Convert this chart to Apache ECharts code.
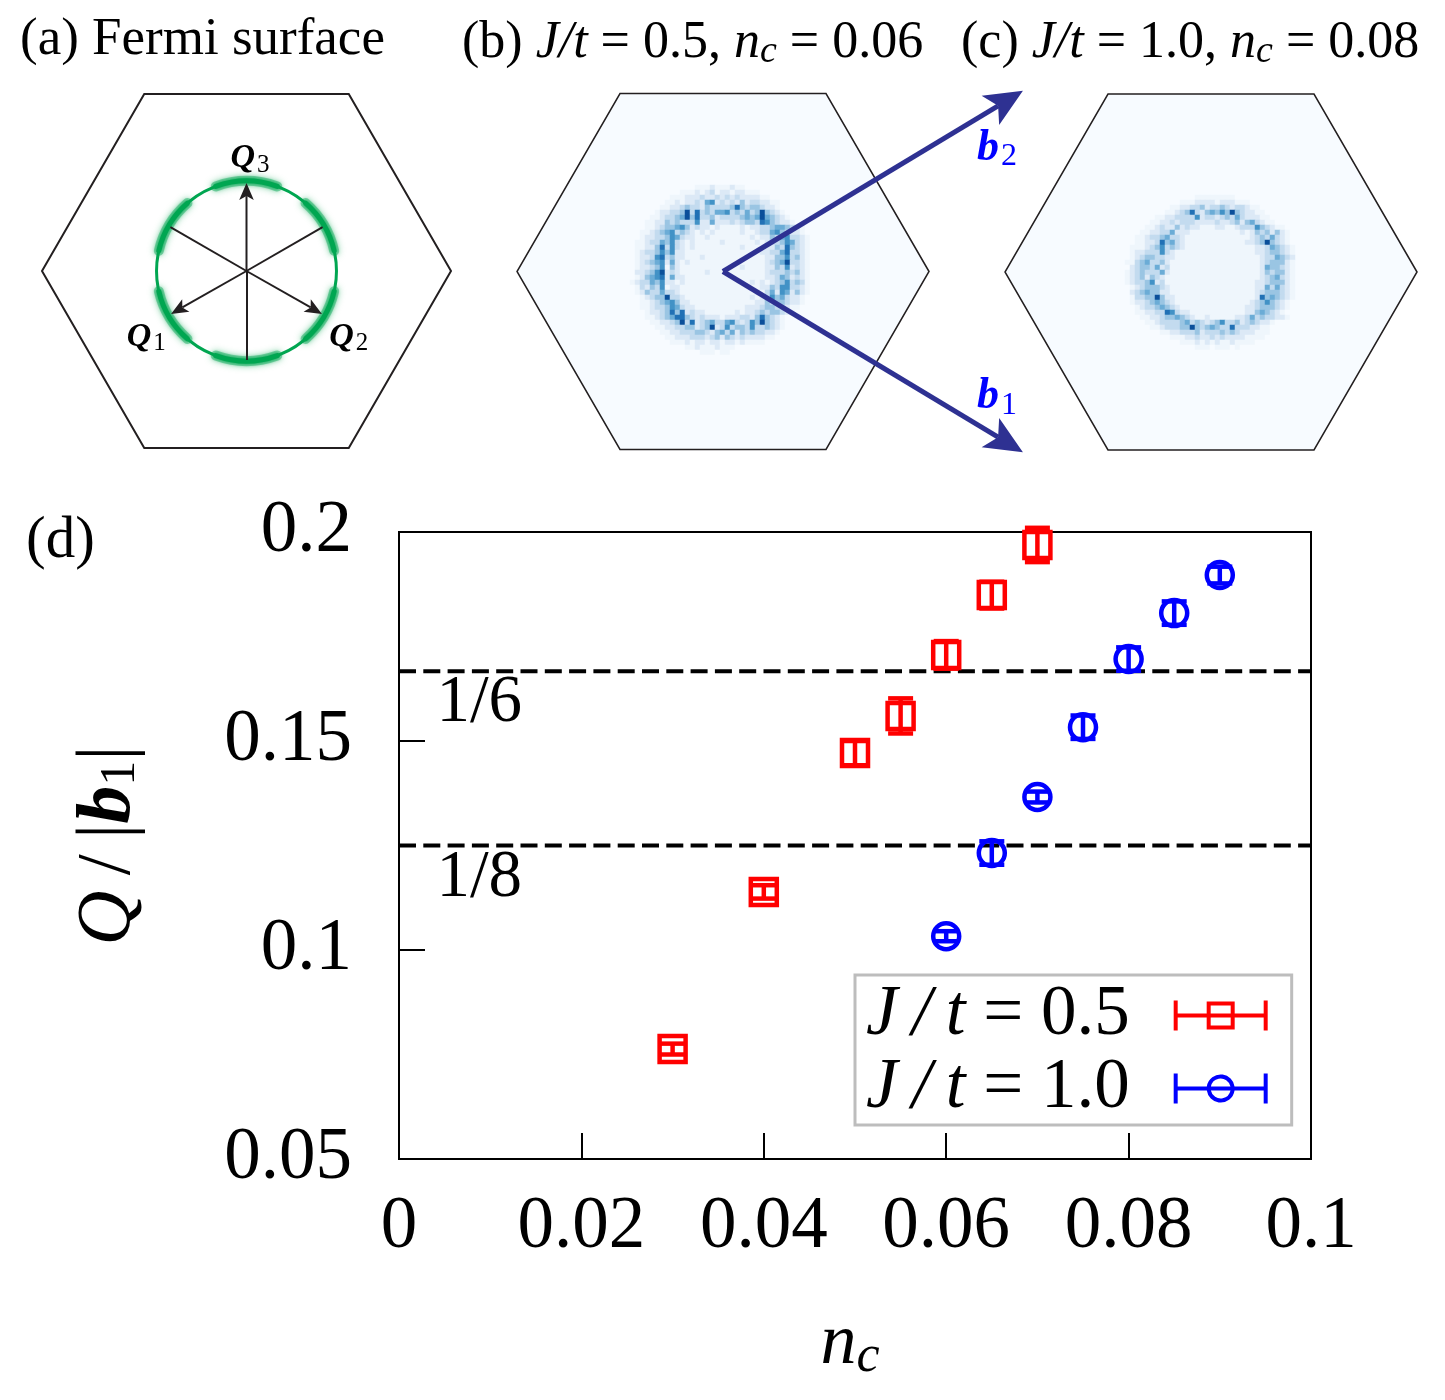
<!DOCTYPE html>
<html>
<head>
<meta charset="utf-8">
<title>Fermi surface and Q/|b1|</title>
<style>
html,body{margin:0;padding:0;background:#fff}
#main{width:1445px;height:1400px}
</style>
<script src="https://cdn.jsdelivr.net/npm/echarts@6/dist/echarts.min.js"></script>
</head>
<body>
<div id="main"></div>
<script>
// panel (d): n_c, Q/|b1|, error
var red05 = [[0.03,0.0763,0.0013],[0.04,0.1139,0.0016],[0.05,0.1471,0.0029],[0.055,0.156,0.0042],[0.06,0.1706,0.0033],[0.065,0.1849,0.0032],[0.07,0.1969,0.0041]];
var blue10 = [[0.06,0.1033,0.0012],[0.065,0.1232,0.0028],[0.07,0.1366,0.0013],[0.075,0.1533,0.0028],[0.08,0.1696,0.0028],[0.085,0.1806,0.0028],[0.09,0.1897,0.002]];
var refLines = [[1/6,'1/6'],[1/8,'1/8']];
var refLabels = [[0.0088,0.1591,'1/6'],[0.0088,0.1172,'1/8']];

// brillouin zone, in units of the corner distance
var hexVertices = [[1,0],[0.5,0.866],[-0.5,0.866],[-1,0],[-0.5,-0.866],[0.5,-0.866]];

// panel (a)
var fermiRadius = 0.44;
var fermiRing = [[0,360]];
var fermiArcs = [[70,110],[13,49],[-49,-13],[-110,-70],[131,167],[193,229]];
var spokes = [[-0.372,0.215],[0.372,0.215],[0,-0.435]];
var qVectors = [[-0.369,-0.21],[0.369,-0.21],[0,0.43]];
var qLabels = [[-0.49,-0.323,'1'],[0.5,-0.323,'2'],[0.017,0.55,'3']];

// panel (b) reciprocal vectors
var bVectors = [[1.456,-0.879],[1.456,0.879]];
var bLabels = [[1.33,-0.61,'1'],[1.33,0.6,'2']];

// intensity rows, 0 (lightest) to 9 (darkest)
var rowsB = [
'0000000000000000000000000000000000000',
'0000000000000111211121100000000000000',
'0000000000111212312212211100000000000',
'0000000011122232232323222211000000000',
'0000000112122325623232423322110000000',
'000000 1122 3433 2433 3347 4344 3221 0000000',
'00000 1223 3483 7343 5563 4353 4843 21 000000',
'0000 1123 3458 4733 4233 3345 4585 4321 00000',
'000 1122 4343 3362 2522 2323 4437 6432 21 0000',
'00 0112 3445 6423 2212 1111 2122 3345 5432 1 00',
'0 0112 3456 3432 1212 1111 1211 2335 6432 21 00',
'0 0122 3346 5322 1121 1111 1112 1224 3563 32 10',
'0 1123 3546 3212 1111 1211 1111 2123 3465 321 0',
'0 1122 4736 3212 1111 1111 1211 1122 4374 321 0',
'0 1233 4646 2211 1111 1111 1111 1223 3573 321 0',
'0 1223 6734 2211 1211 1111 1111 1122 4463 421 0',
'0 1234 5625 2121 1111 1111 1111 1123 4583 321 0',
'0 1223 4614 2111 1111 1111 1211 1122 4362 321 0',
'0 2234 6823 2111 1121 1111 1111 1123 3343 421 0',
'0 1245 6725 2211 1111 1111 1111 1122 3542 321 0',
'1 2335 4622 1211 1111 1111 1112 1212 3463 431 0',
'0 1324 3612 2111 1111 1111 1111 1224 3663 321 0',
'0 1243 3533 2111 1111 1111 1111 2135 2652 421 0',
'0 0123 4483 3211 1111 1111 1112 1236 4532 21 00',
'0 0112 3456 4221 1111 1111 1111 2243 4432 21 00',
'00 112 3346 5322 1111 1111 1122 2344 3321 1 000',
'00 012 2347 4723 2211 1111 2122 3434 4321 0 000',
'000 112 3457 7432 3222 1222 3324 7432 1 000000',
'0000 112 234 8372 3453 3563 2364 8432 1 000000',
'00000 11 223 3442 3482 3634 4363 3432 1 000000',
'000000 1 122 3334 4324 5352 4343 3221 0000000',
'0000000 112 2233 3234 2432 3222 2110 0000000',
'00000000 11 1212 2122 1221 2111 1000 0000000',
'0000000000011211121110000000000000000',
'0000000000000011101100000000000000000',
'0000000000000000000000000000000000000',
'0000000000000000000000000000000000000'
];
var rowsC = [
'0000000000000000000000000000000000',
'0000000000000011111111000000000000',
'0000000000011122221222111000000000',
'0000000001122334233432332110000000',
'00000000 1123 4732 4546 4843 2211 000000',
'000000 1122 3333 6233 2343 5322 211 00000',
'00000 112 2323 3322 2232 2342 4532 11 0000',
'0000 112 3 2242 3221 1122 1123 3364 3211 00',
'000 1122 3352 2211 1111 1111 2124 3424 210',
'00 1123 3453 3211 1111 1111 1112 3435 3210',
'00 1122 37 4532 11 1111 1111 11 2234 84 321 0',
'0 11123 4634 3211 1111 1111 1111 2235 4321',
'0 1223 3363 2111 1111 1111 1111 1223 4432 1',
'0 1234 4332 2111 1111 1111 1111 1123 3543 2',
'1 1345 3342 1111 1111 1111 1111 1123 4442 1',
'0 2344 3523 1111 1111 1111 1111 1125 4432 1',
'1 2343 3352 1111 1111 1111 1111 1124 3442 1',
'1 2342 4321 1111 1111 1111 1111 1123 4532 1',
'1 2334 6231 1111 1111 1111 1111 1223 4442 1',
'0 1234 4432 1111 1111 1111 1111 1225 3532 1',
'0 2345 4422 1111 1111 1111 1111 1234 4432 1',
'0 1334 4842 2111 1111 1111 1111 1274 5432 1',
'0 1223 4543 2111 1111 1111 1111 2346 4321 0',
'00 123 3454 3211 1111 1111 1112 2344 4321 0',
'00 1122 33 7632 2111 1111 1111 2245 4321 00',
'000 1122 3445 4321 1211 1112 2353 4332 21 0',
'0000 1123 3334 5343 2346 3342 3432 21 0000',
'00000 112 3334 4843 4543 3733 3221 1 00000',
'0000000 112 2333 4233 3434 3222 111 00000',
'000000000 11 1223 2232 3222 2111 1 000000',
'00000000000 11 1212 1211 2111 1 00000000',
'0000000000000011101110100000000000',
'0000000000000000000000000000000000',
'0000000000000000000000000000000000'
];
var blues = ['#f7fbff','#eff6fc','#dce9f6','#c3dbef','#9ac5e3','#6bacd6','#4292c6','#2171b5','#0a4f9a','#08306b'];

var serif = '"Liberation Serif"';
var INK = '#231f20';

function heatData(rows){
	var out = [];
	rows.forEach(function(row, r){
		row = row.replace(/ /g,'');
		for(var c = 0; c < row.length; c++){
			out.push([c, r, +row[c]]);
		}
	});
	return out;
}

function indexList(n){
	var a = [];
	for(var i = 0; i < n; i++) a.push(i);
	return a;
}

function hexSeries(gridIdx, fill, width){
	return {
		type:'custom', xAxisIndex:gridIdx, yAxisIndex:gridIdx, clip:false, silent:true, z:1,
		data:[[0,0]],
		renderItem:function(params, api){
			return {
				type:'polygon',
				shape:{points:hexVertices.map(function(v){return api.coord(v);})},
				style:{fill:fill, stroke:INK, lineWidth:width}
			};
		}
	};
}

function arcSeries(data, width, blur, opacity, cap){
	return {
		type:'custom', xAxisIndex:0, yAxisIndex:0, clip:false, silent:true, z:3,
		data:data,
		renderItem:function(params, api){
			var c = api.coord([0,0]);
			var r = api.size([fermiRadius,0])[0];
			return {
				type:'arc',
				shape:{cx:c[0], cy:c[1], r:r, startAngle:-api.value(1)*Math.PI/180, endAngle:-api.value(0)*Math.PI/180, clockwise:true},
				style:{fill:null, stroke:'#00a651', lineWidth:width, lineCap:cap, opacity:opacity, shadowBlur:blur, shadowColor:'#00a651'}
			};
		}
	};
}

function spokeSeries(gridIdx, vectors, color, width){
	return {
		type:'lines', coordinateSystem:'cartesian2d', xAxisIndex:gridIdx, yAxisIndex:gridIdx,
		clip:false, silent:true, z:5, symbol:['none','none'],
		lineStyle:{color:color, width:width, opacity:1, curveness:0},
		data:vectors.map(function(v){return {coords:[[0,0],v]};})
	};
}

// shaft plus a notched head, head sizes in pixels
function arrowSeries(gridIdx, vectors, color, width, len, half, notch){
	return {
		type:'custom', xAxisIndex:gridIdx, yAxisIndex:gridIdx, clip:false, silent:true, z:5,
		encode:{x:0, y:1},
		data:vectors,
		renderItem:function(params, api){
			var o = api.coord([0,0]);
			var t = api.coord([api.value(0), api.value(1)]);
			var d = Math.hypot(t[0]-o[0], t[1]-o[1]);
			var ux = (t[0]-o[0])/d, uy = (t[1]-o[1])/d;
			var bx = t[0]-ux*len, by = t[1]-uy*len;
			var nx = t[0]-ux*notch, ny = t[1]-uy*notch;
			return {type:'group', children:[
				{type:'line', shape:{x1:o[0],y1:o[1],x2:nx,y2:ny}, style:{stroke:color, lineWidth:width}},
				{type:'polygon', shape:{points:[t,[bx-uy*half,by+ux*half],[nx,ny],[bx+uy*half,by-ux*half]]}, style:{fill:color}}
			]};
		}
	};
}

function vectorLabels(gridIdx, data, letter, color, size, subSize){
	return {
		type:'scatter', xAxisIndex:gridIdx, yAxisIndex:gridIdx, clip:false, silent:true, z:6,
		symbolSize:1, itemStyle:{color:'transparent', opacity:1},
		data:data,
		label:{
			show:true, position:'inside',
			formatter:function(p){return '{v|'+letter+'}{s|'+p.data[2]+'}';},
			rich:{
				v:{fontFamily:serif, fontStyle:'italic', fontWeight:'bold', fontSize:size, color:color},
				s:{fontFamily:serif, fontSize:subSize, color:color, padding:[subSize*0.55,0,0,2]}
			}
		}
	};
}

function errorSeries(name, data, color, marker){
	return {
		name:name, type:'custom', xAxisIndex:3, yAxisIndex:3, clip:false, z:8,
		itemStyle:{color:color},
		encode:{x:0, y:1},
		data:data,
		renderItem:function(params, api){
			var p = api.coord([api.value(0), api.value(1)]);
			var lo = api.coord([api.value(0), api.value(1)-api.value(2)]);
			var hi = api.coord([api.value(0), api.value(1)+api.value(2)]);
			var st = {stroke:color, lineWidth:4.5, fill:'none'};
			var capW = 12.5;
			var kids = [
				{type:'line', shape:{x1:p[0],y1:lo[1],x2:p[0],y2:hi[1]}, style:st},
				{type:'line', shape:{x1:p[0]-capW,y1:lo[1],x2:p[0]+capW,y2:lo[1]}, style:st},
				{type:'line', shape:{x1:p[0]-capW,y1:hi[1],x2:p[0]+capW,y2:hi[1]}, style:st}
			];
			if(marker == 'square'){
				kids.push({type:'rect', shape:{x:p[0]-13,y:p[1]-13,width:26,height:26}, style:st});
			}else{
				kids.push({type:'circle', shape:{cx:p[0],cy:p[1],r:13}, style:st});
			}
			return {type:'group', children:kids};
		}
	};
}

function panelAxes(n){
	var xa = [], ya = [];
	for(var i = 0; i < n; i++){
		xa.push({gridIndex:i, type:'value', min:-1, max:1, show:false});
		ya.push({gridIndex:i, type:'value', min:-0.866, max:0.866, show:false});
	}
	return {x:xa, y:ya};
}

var axes = panelAxes(3);
var xAxes = axes.x.concat([
	{gridIndex:3, type:'value', min:0, max:0.1, interval:0.02,
		axisLine:{show:false}, splitLine:{show:false},
		axisTick:{show:true, inside:true, length:26, lineStyle:{color:'#000', width:2}},
		axisLabel:{fontFamily:serif, fontSize:73, color:'#000', margin:32},
		name:'{i|n}{s|c}', nameLocation:'middle', nameGap:146,
		nameTextStyle:{padding:[0,10,0,0], rich:{
			i:{fontFamily:serif, fontStyle:'italic', fontSize:72, color:'#000'},
			s:{fontFamily:serif, fontStyle:'italic', fontSize:52, color:'#000', padding:[26,0,0,0]}
		}}
	},
	{gridIndex:4, type:'category', show:false, data:indexList(37)},
	{gridIndex:5, type:'category', show:false, data:indexList(34)}
]);
var yAxes = axes.y.concat([
	{gridIndex:3, type:'value', min:0.05, max:0.2, interval:0.05,
		axisLine:{show:false}, splitLine:{show:false},
		axisTick:{show:true, inside:true, length:26, lineStyle:{color:'#000', width:2}},
		axisLabel:{fontFamily:serif, fontSize:73, color:'#000', margin:47, padding:[0,0,10,0]},
		name:'{i|Q}{r|\u2009/\u2009|}{b|b}{s|1}{r||}', nameLocation:'middle', nameRotate:90, nameGap:252,
		nameTextStyle:{rich:{
			i:{fontFamily:serif, fontStyle:'italic', fontSize:76, color:'#000'},
			r:{fontFamily:serif, fontSize:76, color:'#000'},
			b:{fontFamily:serif, fontStyle:'italic', fontWeight:'bold', fontSize:76, color:'#000'},
			s:{fontFamily:serif, fontSize:50, color:'#000', padding:[24,0,0,0]}
		}}
	},
	{gridIndex:4, type:'category', show:false, inverse:true, data:indexList(37)},
	{gridIndex:5, type:'category', show:false, inverse:true, data:indexList(34)}
]);

var titleRich = {
	a:{fontFamily:serif, fontSize:53, fontWeight:'normal', color:'#000'},
	d:{fontFamily:serif, fontSize:59, fontWeight:'normal', color:'#000'},
	r:{fontFamily:serif, fontSize:52, fontWeight:'normal', color:'#000'},
	i:{fontFamily:serif, fontStyle:'italic', fontWeight:'normal', fontSize:52, color:'#000'},
	s:{fontFamily:serif, fontStyle:'italic', fontWeight:'normal', fontSize:38, color:'#000', padding:[18,0,0,0]}
};
function panelTitle(text, left, top){
	return {text:text, left:left, top:top, padding:0, textStyle:{fontWeight:'normal', rich:titleRich}};
}

var option = {
	animation:false,
	backgroundColor:'#fff',
	title:[
		panelTitle('{a|(a) Fermi surface}', 20, 14),
		panelTitle('{r|(b) }{i|J/t}{r| = 0.5, }{i|n}{s|c}{r| = 0.06}', 462, 15),
		panelTitle('{r|(c) }{i|J/t}{r| = 1.0, }{i|n}{s|c}{r| = 0.08}', 961, 15),
		panelTitle('{d|(d)}', 26, 512)
	],
	grid:[
		{left:42, top:94, width:409, height:354, outerBoundsMode:'none'},
		{left:517, top:93.5, width:412, height:356, outerBoundsMode:'none'},
		{left:1005, top:94, width:412, height:356, outerBoundsMode:'none'},
		{left:399, top:532, width:912, height:627, outerBoundsMode:'none', show:true, borderColor:'#000', borderWidth:2, backgroundColor:'transparent'},
		{left:630, top:180, width:185, height:185, outerBoundsMode:'none'},
		{left:1125, top:190, width:170, height:170, outerBoundsMode:'none'}
	],
	xAxis:xAxes,
	yAxis:yAxes,
	visualMap:{show:false, type:'piecewise', seriesIndex:[8,9], dimension:2,
		pieces:blues.map(function(col, i){return {value:i, color:col};})},
	legend:{
		left:855, top:975, orient:'vertical', align:'right', selectedMode:false,
		backgroundColor:'#fff', borderColor:'#bdbdbd', borderWidth:3, borderRadius:0,
		padding:[4,24,0,11], itemGap:0, itemWidth:94, itemHeight:30,
		textStyle:{lineHeight:73, rich:{
			i:{fontFamily:serif, fontStyle:'italic', fontSize:71, color:'#000', lineHeight:73},
			r:{fontFamily:serif, fontSize:71, color:'#000', lineHeight:73},
			g:{width:39}
		}},
		formatter:function(name){
			return '{i|J\u2009/\u2009t}{r| = '+name.split('= ')[1]+'}{g|}';
		},
		data:[
			{name:'J/t = 0.5', itemStyle:{color:'#ff0000', borderWidth:0},
				icon:'path://M0 0H4V13H33V1H61V13H90V0H94V30H90V17H61V29H33V17H4V30H0ZM37 5V13H57V5ZM37 17V25H57V17Z'},
			{name:'J/t = 1.0', itemStyle:{color:'#0000ff', borderWidth:0},
				icon:'path://M0 0H4V13H33.14A14 14 0 0 1 60.86 13H90V0H94V30H90V17H60.86A14 14 0 0 1 33.14 17H4V30H0ZM37.2 13H56.8A10 10 0 0 0 37.2 13ZM37.2 17A10 10 0 0 0 56.8 17Z'}
		]
	},
	series:[
		hexSeries(0, '#ffffff', 2),
		hexSeries(1, blues[0], 1.5),
		hexSeries(2, blues[0], 1.5),
		arcSeries(fermiRing, 3, 0, 1, 'butt'),
		arcSeries(fermiArcs, 10, 7, 0.4, 'round'),
		arcSeries(fermiArcs, 5, 4, 1, 'round'),
		spokeSeries(0, spokes, INK, 2),
		arrowSeries(0, qVectors, INK, 2, 17, 7.3, 13),
		{type:'heatmap', xAxisIndex:4, yAxisIndex:4, silent:true, z:2, data:heatData(rowsB)},
		{type:'heatmap', xAxisIndex:5, yAxisIndex:5, silent:true, z:2, data:heatData(rowsC)},
		arrowSeries(1, bVectors, '#2e3192', 5, 38, 17, 29),
		vectorLabels(0, qLabels, 'Q', '#000', 34, 25),
		vectorLabels(1, bLabels, 'b', '#0000ff', 44, 32),
		{
			type:'line', xAxisIndex:3, yAxisIndex:3, silent:true, z:4, showSymbol:false,
			lineStyle:{color:'#000', width:4, type:[17,7.3]},
			data:[[0,refLines[0][0]],[0.1,refLines[0][0]]]
		},
		{
			type:'line', xAxisIndex:3, yAxisIndex:3, silent:true, z:4, showSymbol:false,
			lineStyle:{color:'#000', width:4, type:[17,7.3]},
			data:[[0,refLines[1][0]],[0.1,refLines[1][0]]]
		},
		{
			type:'scatter', xAxisIndex:3, yAxisIndex:3, silent:true, z:4,
			symbolSize:1, itemStyle:{color:'transparent', opacity:1},
			data:refLabels,
			label:{show:true, position:'inside', fontFamily:serif, fontSize:67, color:'#000',
				formatter:function(p){return p.data[2];}}
		},
		errorSeries('J/t = 0.5', red05, '#ff0000', 'square'),
		errorSeries('J/t = 1.0', blue10, '#0000ff', 'circle')
	]
};

var myChart = echarts.init(document.getElementById('main'), null, {renderer:'canvas', width:1445, height:1400});
myChart.setOption(option);
</script>
</body>
</html>
